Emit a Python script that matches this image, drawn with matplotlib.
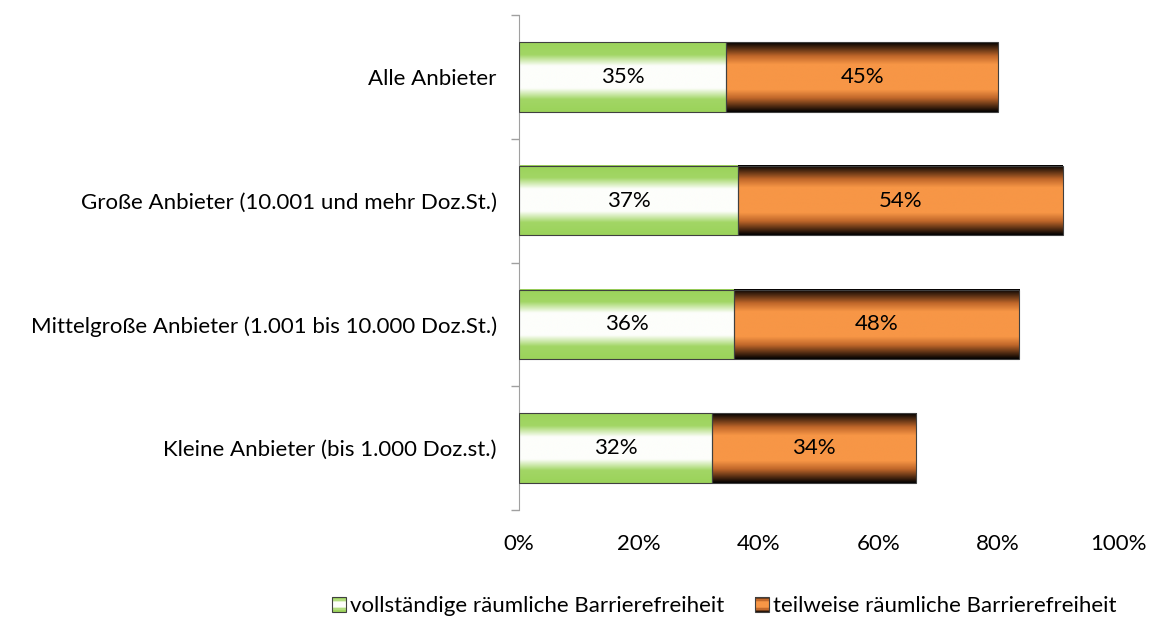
import numpy as np
import matplotlib.pyplot as plt
from matplotlib.colors import LinearSegmentedColormap
from matplotlib.patches import Rectangle
from matplotlib.legend_handler import HandlerBase

plt.rcParams['font.family'] = ['Lato', 'DejaVu Sans']

categories = ['Alle Anbieter',
              'Große Anbieter (10.001 und mehr Doz.St.)',
              'Mittelgroße Anbieter (1.001 bis 10.000 Doz.St.)',
              'Kleine Anbieter (bis 1.000 Doz.st.)']
vollstaendig = [34.6, 36.6, 35.9, 32.2]
teilweise = [45.4, 54.2, 47.6, 34.1]
series_names = ['vollständige räumliche Barrierefreiheit',
                'teilweise räumliche Barrierefreiheit']
x_ticks = [0, 20, 40, 60, 80, 100]

green_cmap = LinearSegmentedColormap.from_list(
    'g', [(0, '#9bd35a'), (0.18, '#a2d665'), (0.34, '#fdfefb'), (0.66, '#fdfefb'),
          (0.82, '#a2d665'), (1, '#9bd35a')])
orange_cmap = LinearSegmentedColormap.from_list(
    'o', [(0, '#000000'), (0.2, '#c0672a'), (0.32, '#f79646'), (0.68, '#f79646'),
          (0.8, '#c0672a'), (1, '#000000')])
grad = np.linspace(0, 1, 256).reshape(-1, 1)

fs = 16

fig = plt.figure(figsize=(11.52, 6.2), dpi=100)
ax = fig.add_axes([0.4505, 0.1774, 0.5200, 0.7984])

ypos = np.arange(len(categories))[::-1]
h = 0.56
for y, v, t in zip(ypos, vollstaendig, teilweise):
    for left, w, cmap in [(0, v, green_cmap), (v, t, orange_cmap)]:
        ax.imshow(grad, cmap=cmap, aspect='auto', interpolation='bilinear',
                  extent=[left, left + w, y - h / 2, y + h / 2], zorder=2)
        ax.add_patch(Rectangle((left, y - h / 2), w, h, fill=False,
                               edgecolor='#404040', linewidth=0.8, zorder=3))
        ax.text(left + w / 2, y, f'{round(w):.0f}%', ha='center', va='center',
                fontsize=fs, color='black', zorder=4)

ax.set_xlim(0, 100)
ax.set_ylim(-0.5, len(categories) - 0.5)
ax.set_xticks(x_ticks)
ax.set_xticklabels([f'{x}%' for x in x_ticks], fontsize=fs)
ax.tick_params(axis='x', length=0, pad=17)
ax.set_yticks(ypos)
ax.set_yticklabels(categories, fontsize=fs)
ax.tick_params(axis='y', length=0, pad=16)
ax.set_yticks(np.arange(-0.5, len(categories), 1.0), minor=True)
ax.tick_params(axis='y', which='minor', length=6, color='#a0a0a0', width=1)
for s in ['top', 'right', 'bottom']:
    ax.spines[s].set_visible(False)
ax.spines['left'].set_color('#a0a0a0')


class GradHandler(HandlerBase):
    def __init__(self, cmap):
        super().__init__()
        self.cmap = cmap

    def create_artists(self, legend, orig_handle, xdescent, ydescent, width,
                       height, fontsize, trans):
        n = 12
        arts = []
        w = height * 0.9
        x0 = -xdescent + width - w
        for i in range(n):
            c = self.cmap(1 - (i + 0.5) / n)
            r = Rectangle((x0, -ydescent + i * height / n), w, height / n,
                          facecolor=c, edgecolor='none', transform=trans)
            arts.append(r)
        arts.append(Rectangle((x0, -ydescent), w, height, fill=False,
                              edgecolor='#404040', linewidth=0.8, transform=trans))
        return arts


h1 = Rectangle((0, 0), 1, 1)
h2 = Rectangle((0, 0), 1, 1)
fig.legend([h1, h2], series_names, loc='center', bbox_to_anchor=(0.628, 0.022),
           ncol=2, frameon=False, fontsize=fs, handlelength=0.7,
           handletextpad=0.2, columnspacing=1.3,
           handler_map={h1: GradHandler(green_cmap), h2: GradHandler(orange_cmap)})

fig.savefig('out.png', dpi=100)
